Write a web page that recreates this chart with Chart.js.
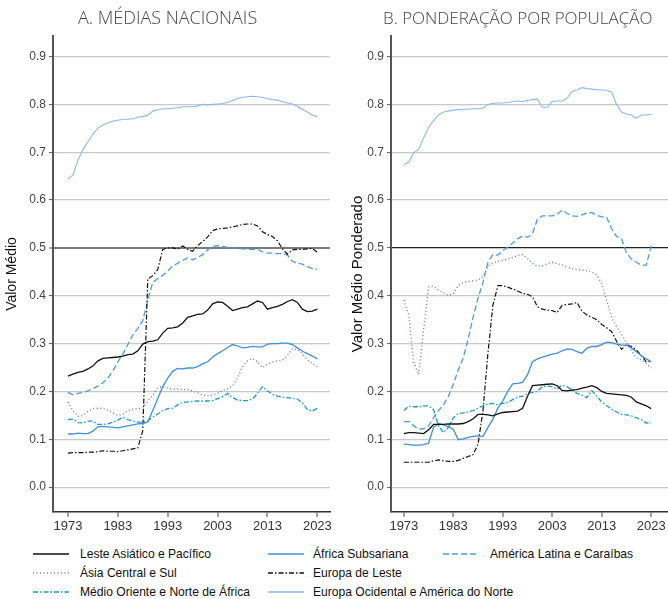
<!DOCTYPE html>
<html>
<head>
<meta charset="utf-8">
<script src="https://cdn.jsdelivr.net/npm/chart.js@4.4.1/dist/chart.umd.min.js"></script>
<style>
  body { margin: 0; background: #fff; }
  #wrap { position: relative; width: 668px; height: 599px; overflow: hidden; font-family: "Liberation Sans Narrow", "Liberation Sans", Arial, sans-serif; }
  canvas { position: absolute; top: 0; }
  #chartA { left: 0; }
  #chartB { left: 334px; }
  .title { position: absolute; top: 5px; font-family: "Open Sans", "Noto Sans", sans-serif; font-weight: 300; font-size: 18px; color: #444; white-space: nowrap; }
  #legend { position: absolute; left: 0; top: 545px; width: 668px; height: 54px; }
  .item { position: absolute; height: 18px; font-size: 13px; color: #111; white-space: nowrap; }
  .item canvas { position: absolute; left: 0; top: 4px; }
  .item span { position: absolute; top: 0; line-height: 18px; transform: scaleX(0.93); transform-origin: left center; }
</style>
</head>
<body>
<div id="wrap">
  <canvas id="chartA" width="334" height="540"></canvas>
  <canvas id="chartB" width="334" height="540"></canvas>
  <div class="title" style="left:78px">A. MÉDIAS NACIONAIS</div>
  <div class="title" style="left:383px; top:6px; font-size:17px">B. PONDERAÇÃO POR POPULAÇÃO</div>
  <div id="legend"></div>
</div>
<script>
// years 1973-2023
const years = [];
for (let y = 1973; y <= 2023; y++) years.push(y);
const tickYears = [1973, 1983, 1993, 2003, 2013, 2023];
const yTicks = [0, 0.1, 0.2, 0.3, 0.4, 0.5, 0.6, 0.7, 0.8, 0.9];

// Painel A - médias nacionais
const lesteA = [0.232,0.236,0.240,0.242,0.247,0.253,0.264,0.269,0.270,0.271,0.272,0.274,0.277,0.278,0.285,0.299,0.304,0.305,0.308,0.322,0.332,0.333,0.335,0.343,0.355,0.358,0.361,0.362,0.370,0.383,0.387,0.386,0.378,0.369,0.372,0.375,0.377,0.383,0.389,0.386,0.372,0.375,0.378,0.382,0.388,0.392,0.386,0.372,0.367,0.368,0.372];
const asiaA = [0.178,0.160,0.148,0.150,0.158,0.164,0.165,0.164,0.161,0.155,0.150,0.152,0.160,0.163,0.164,0.165,0.180,0.192,0.208,0.210,0.207,0.205,0.205,0.204,0.204,0.201,0.197,0.192,0.191,0.192,0.196,0.202,0.206,0.211,0.228,0.252,0.264,0.269,0.262,0.250,0.257,0.262,0.264,0.265,0.275,0.289,0.288,0.278,0.266,0.258,0.252];
const menaA = [0.141,0.142,0.135,0.134,0.138,0.138,0.131,0.131,0.132,0.136,0.140,0.146,0.141,0.138,0.136,0.136,0.139,0.146,0.153,0.160,0.164,0.165,0.172,0.177,0.178,0.179,0.180,0.180,0.180,0.181,0.185,0.189,0.196,0.187,0.182,0.181,0.181,0.184,0.196,0.210,0.201,0.194,0.190,0.188,0.187,0.186,0.184,0.176,0.162,0.159,0.165];
const africaA = [0.111,0.111,0.113,0.112,0.112,0.117,0.126,0.127,0.126,0.125,0.124,0.126,0.128,0.130,0.132,0.133,0.136,0.160,0.185,0.210,0.228,0.242,0.248,0.247,0.249,0.249,0.252,0.258,0.262,0.272,0.279,0.285,0.292,0.298,0.295,0.291,0.292,0.294,0.293,0.293,0.299,0.300,0.300,0.301,0.301,0.298,0.291,0.284,0.279,0.274,0.268];
const lesteEuA = [0.071,0.072,0.072,0.072,0.073,0.073,0.074,0.076,0.075,0.075,0.074,0.076,0.078,0.080,0.082,0.118,0.435,0.442,0.455,0.497,0.500,0.500,0.498,0.504,0.497,0.493,0.505,0.513,0.523,0.536,0.540,0.541,0.542,0.544,0.546,0.549,0.550,0.550,0.546,0.534,0.528,0.524,0.515,0.498,0.487,0.496,0.497,0.497,0.498,0.499,0.491];
const ocidA = [0.644,0.652,0.684,0.705,0.722,0.738,0.750,0.757,0.761,0.765,0.767,0.769,0.769,0.770,0.773,0.775,0.777,0.786,0.789,0.791,0.791,0.792,0.793,0.795,0.795,0.795,0.797,0.800,0.799,0.800,0.801,0.802,0.804,0.808,0.812,0.815,0.816,0.817,0.816,0.815,0.812,0.810,0.809,0.806,0.803,0.801,0.796,0.790,0.784,0.778,0.774];
const latinaA = [0.198,0.193,0.196,0.198,0.201,0.206,0.211,0.218,0.228,0.243,0.262,0.278,0.298,0.318,0.332,0.348,0.390,0.428,0.436,0.443,0.452,0.462,0.468,0.474,0.479,0.475,0.480,0.486,0.496,0.503,0.505,0.503,0.501,0.500,0.499,0.498,0.497,0.497,0.497,0.492,0.489,0.489,0.488,0.488,0.485,0.472,0.468,0.466,0.461,0.457,0.455];

// Painel B - ponderação por população
const lesteB = [0.112,0.114,0.114,0.113,0.112,0.120,0.131,0.131,0.131,0.132,0.132,0.132,0.133,0.137,0.143,0.152,0.152,0.151,0.149,0.153,0.156,0.157,0.158,0.159,0.165,0.190,0.212,0.213,0.214,0.215,0.216,0.212,0.202,0.201,0.203,0.204,0.207,0.209,0.212,0.208,0.200,0.196,0.195,0.194,0.193,0.192,0.188,0.178,0.174,0.170,0.164];
const asiaB = [0.391,0.360,0.260,0.235,0.330,0.418,0.420,0.412,0.406,0.401,0.404,0.421,0.428,0.430,0.431,0.433,0.440,0.462,0.468,0.472,0.474,0.477,0.480,0.484,0.486,0.478,0.468,0.462,0.462,0.467,0.470,0.467,0.464,0.460,0.457,0.455,0.454,0.452,0.450,0.444,0.425,0.390,0.355,0.335,0.320,0.302,0.285,0.270,0.266,0.258,0.249];
const menaB = [0.160,0.169,0.168,0.168,0.170,0.170,0.162,0.128,0.114,0.125,0.145,0.154,0.155,0.157,0.160,0.165,0.170,0.174,0.175,0.172,0.175,0.177,0.183,0.188,0.190,0.196,0.198,0.200,0.210,0.211,0.210,0.205,0.213,0.210,0.203,0.196,0.192,0.187,0.202,0.190,0.178,0.170,0.163,0.157,0.152,0.151,0.149,0.145,0.141,0.134,0.135];
const africaB = [0.090,0.089,0.088,0.088,0.089,0.092,0.125,0.133,0.130,0.126,0.121,0.099,0.101,0.104,0.106,0.107,0.106,0.125,0.142,0.165,0.180,0.200,0.216,0.217,0.219,0.235,0.262,0.268,0.272,0.275,0.278,0.280,0.285,0.289,0.288,0.283,0.280,0.290,0.294,0.294,0.298,0.303,0.302,0.299,0.297,0.297,0.291,0.283,0.275,0.268,0.262];
const lesteEuB = [0.052,0.052,0.052,0.052,0.052,0.052,0.055,0.057,0.055,0.054,0.054,0.056,0.060,0.064,0.068,0.090,0.160,0.280,0.380,0.421,0.421,0.418,0.414,0.410,0.405,0.403,0.398,0.377,0.372,0.370,0.369,0.365,0.380,0.382,0.383,0.386,0.368,0.360,0.355,0.350,0.340,0.333,0.325,0.305,0.288,0.298,0.294,0.287,0.275,0.262,0.263];
const ocidB = [0.674,0.679,0.699,0.706,0.730,0.752,0.766,0.778,0.784,0.786,0.788,0.789,0.790,0.790,0.791,0.791,0.792,0.800,0.802,0.803,0.803,0.804,0.806,0.807,0.806,0.808,0.810,0.811,0.794,0.794,0.806,0.807,0.807,0.813,0.827,0.830,0.835,0.833,0.832,0.831,0.830,0.829,0.826,0.800,0.784,0.780,0.778,0.771,0.778,0.778,0.779];
const latinaB = [0.137,0.137,0.128,0.121,0.122,0.128,0.145,0.160,0.172,0.190,0.215,0.245,0.270,0.310,0.355,0.395,0.428,0.470,0.486,0.485,0.494,0.502,0.510,0.519,0.525,0.522,0.530,0.560,0.567,0.567,0.567,0.570,0.579,0.572,0.567,0.566,0.569,0.573,0.574,0.568,0.565,0.564,0.540,0.524,0.519,0.490,0.477,0.470,0.464,0.464,0.504];

const styles = [
  { label: "Leste Asiático e Pacífico", color: "#111111", dash: [], width: 1.3 },
  { label: "Ásia Central e Sul", color: "#6878c0", dash: [1, 2.5], width: 1.4 },
  { label: "Médio Oriente e Norte de África", color: "#1b9cc4", dash: [5, 2, 1.5, 2], width: 1.3 },
  { label: "África Subsariana", color: "#3f8fdb", dash: [], width: 1.3 },
  { label: "Europa de Leste", color: "#111111", dash: [5, 2, 1.5, 2], width: 1.2 },
  { label: "Europa Ocidental e América do Norte", color: "#8cb9ea", dash: [], width: 1.1 },
  { label: "América Latina e Caraíbas", color: "#4d9be0", dash: [6, 3], width: 1.3 }
];

function makeDatasets(series) {
  return series.map((vals, i) => ({
    label: styles[i].label,
    data: years.map((yr, j) => ({ x: yr, y: vals[j] })),
    borderColor: styles[i].color,
    borderDash: styles[i].dash,
    borderWidth: styles[i].width,
    pointRadius: 0,
    tension: 0,
    fill: false
  }));
}

function makeChart(id, series, yTitle, opt) {
  const ctx = document.getElementById(id).getContext("2d");
  return new Chart(ctx, {
    type: "line",
    data: { datasets: makeDatasets(series) },
    options: {
      responsive: false,
      animation: false,
      devicePixelRatio: 1,
      layout: { padding: { top: 36, right: opt.padRight, left: 0, bottom: 0 } },
      plugins: { legend: { display: false }, tooltip: { enabled: false } },
      scales: {
        x: {
          type: "linear",
          min: opt.xMin,
          max: opt.xMax,
          afterBuildTicks: axis => { axis.ticks = tickYears.map(v => ({ value: v })); },
          afterFit: scale => { scale.height = 28; },
          ticks: {
            autoSkip: false,
            maxRotation: 0,
            padding: 2,
            color: "#333",
            font: { family: "'Liberation Sans Narrow', 'Liberation Sans', Arial, sans-serif", size: 13 },
            callback: v => String(v)
          },
          grid: { color: "#ffffff", lineWidth: 2, drawTicks: true, tickLength: 5, tickColor: "#444", tickWidth: 1 },
          border: { display: true, color: "#333", width: 1.5 }
        },
        y: {
          min: -0.052,
          max: 0.943,
          afterBuildTicks: axis => { axis.ticks = yTicks.map(v => ({ value: v })); },
          afterFit: scale => { scale.width = opt.yWidth; },
          ticks: {
            padding: 3,
            color: "#444",
            font: { family: "'Liberation Sans', Arial, sans-serif", size: 12 },
            callback: v => v.toFixed(1)
          },
          grid: {
            color: c => (c.tick && Math.abs(c.tick.value - 0.5) < 1e-6) ? opt.midColor : "#c8c8c8",
            lineWidth: c => (c.tick && Math.abs(c.tick.value - 0.5) < 1e-6) ? opt.midWidth : 1.2,
            tickLength: 4,
            tickColor: "#555",
            tickWidth: 1
          },
          border: { display: true, color: "#555", width: 2 },
          title: {
            display: true,
            text: yTitle,
            color: "#111",
            padding: { top: opt.titlePad, bottom: 0 },
            font: { family: "'Liberation Sans', Arial, sans-serif", size: opt.titleSize }
          }
        }
      }
    }
  });
}

// order of series matches styles
const seriesA = [lesteA, asiaA, menaA, africaA, lesteEuA, ocidA, latinaA];
const seriesB = [lesteB, asiaB, menaB, africaB, lesteEuB, ocidB, latinaB];

makeChart("chartA", seriesA, "Valor Médio", { xMin: 1970, xMax: 2025.5, padRight: 4, yWidth: 53, midColor: "#7a7a7a", midWidth: 2, titlePad: 4, titleSize: 14 });
makeChart("chartB", seriesB, "Valor Médio Ponderado", { xMin: 1970.4, xMax: 2026.4, padRight: 0, yWidth: 57, midColor: "#222", midWidth: 1.2, titlePad: 15, titleSize: 15 });

// legend (column-major, 3 columns)
const legendPos = [
  { x: 33, y: 0, tx: 80 }, { x: 33, y: 19, tx: 80 }, { x: 33, y: 38, tx: 80 },
  { x: 268, y: 0, tx: 313 }, { x: 268, y: 19, tx: 313 }, { x: 268, y: 38, tx: 313 },
  { x: 443, y: 0, tx: 490 }
];
const legend = document.getElementById("legend");
styles.forEach((s, i) => {
  const p = legendPos[i];
  const item = document.createElement("div");
  item.className = "item";
  item.style.left = p.x + "px";
  item.style.top = p.y + "px";
  const c = document.createElement("canvas");
  c.width = 36; c.height = 10;
  const g = c.getContext("2d");
  g.strokeStyle = s.color;
  g.lineWidth = s.width + 0.3;
  g.setLineDash(s.dash);
  g.beginPath(); g.moveTo(0, 5); g.lineTo(36, 5); g.stroke();
  const t = document.createElement("span");
  t.style.left = (p.tx - p.x) + "px";
  t.textContent = s.label;
  item.appendChild(c); item.appendChild(t);
  legend.appendChild(item);
});
</script>
</body>
</html>
